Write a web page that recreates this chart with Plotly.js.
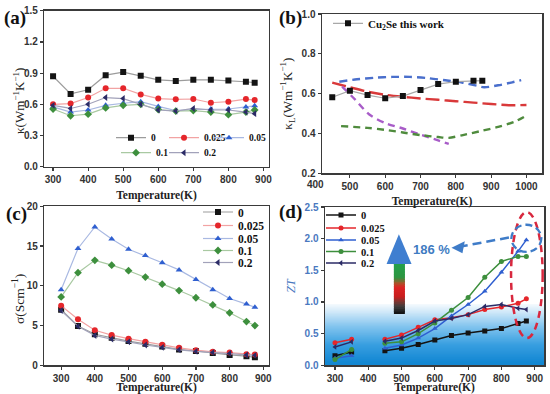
<!DOCTYPE html>
<html><head><meta charset="utf-8">
<script src="https://cdn.plot.ly/plotly-3.0.1.min.js"></script>
<style>html,body{margin:0;padding:0;background:#fff}#chart{width:550px;height:394px}</style>
</head><body><div id="chart"></div>
<script>
// ---------- data ----------
const seriesNames = ['0', '0.025', '0.05', '0.1', '0.2'];
const temps = [300, 350, 400, 450, 500, 550, 600, 650, 700, 750, 800, 850, 875];

// (a) thermal conductivity kappa
const kappa_0    = [0.87, 0.70, 0.74, 0.88, 0.91, 0.875, 0.835, 0.825, 0.835, 0.835, 0.828, 0.817, 0.808];
const kappa_0025 = [0.60, 0.607, 0.665, 0.754, 0.754, 0.695, 0.655, 0.648, 0.651, 0.615, 0.625, 0.65, 0.641];
const kappa_005  = [0.575, 0.525, 0.545, 0.59, 0.61, 0.625, 0.58, 0.54, 0.55, 0.555, 0.555, 0.575, 0.585];
const kappa_01   = [0.555, 0.49, 0.505, 0.565, 0.59, 0.60, 0.55, 0.535, 0.54, 0.525, 0.50, 0.525, 0.545];
const kappa_02   = [0.59, 0.56, 0.60, 0.665, 0.655, 0.60, 0.545, 0.535, 0.56, 0.545, 0.545, 0.525, 0.51];

// (b) lattice thermal conductivity
const cu2seT  = [450, 500, 550, 600, 650, 700, 750, 800, 850, 875];
const cu2seKL = [0.582, 0.615, 0.593, 0.577, 0.588, 0.618, 0.648, 0.66, 0.665, 0.665];
const refBlueT  = [470, 520, 570, 620, 670, 720, 770, 820, 860, 880, 920, 960, 985];
const refBlueKL = [0.66, 0.672, 0.68, 0.684, 0.684, 0.678, 0.667, 0.655, 0.64, 0.632, 0.642, 0.657, 0.668];
const refRedT   = [450, 500, 550, 600, 650, 700, 750, 800, 850, 900, 950, 1000];
const refRedKL  = [0.655, 0.632, 0.61, 0.594, 0.584, 0.576, 0.569, 0.562, 0.555, 0.548, 0.542, 0.543];
const refPurpleT  = [478, 515, 555, 600, 650, 700, 750, 780];
const refPurpleKL = [0.635, 0.57, 0.495, 0.452, 0.425, 0.394, 0.365, 0.348];
const refGreenT  = [475, 550, 600, 650, 700, 750, 780, 820, 870, 920, 970, 1000];
const refGreenKL = [0.437, 0.428, 0.418, 0.405, 0.392, 0.382, 0.378, 0.392, 0.412, 0.433, 0.462, 0.49];

// (c) electrical conductivity sigma
const sigma_0    = [7.0, 4.95, 3.9, 3.45, 3.05, 2.7, 2.35, 2.0, 1.8, 1.55, 1.3, 1.15, 1.0];
const sigma_0025 = [7.5, 5.8, 4.4, 3.8, 3.35, 2.95, 2.6, 2.2, 1.9, 1.7, 1.6, 1.4, 1.35];
const sigma_005  = [9.5, 14.7, 17.4, 15.9, 14.6, 13.8, 12.9, 12.0, 10.8, 9.5, 8.4, 7.7, 7.3];
const sigma_01   = [8.6, 11.65, 13.2, 12.6, 11.9, 11.1, 10.2, 9.4, 8.5, 7.6, 6.6, 5.5, 5.0];
const sigma_02   = [6.9, 4.9, 3.75, 3.3, 2.95, 2.55, 2.25, 1.95, 1.75, 1.6, 1.5, 1.3, 1.25];

// (d) ZT (no measurement at 400 K)
const zt_0    = [0.15, 0.21, null, 0.23, 0.27, 0.33, 0.40, 0.47, 0.51, 0.54, 0.58, 0.66, 0.70];
const zt_0025 = [0.355, 0.41, null, 0.41, 0.48, 0.60, 0.72, 0.75, 0.80, 0.88, 0.92, 0.98, 1.05];
const zt_005  = [0.11, 0.15, null, 0.27, 0.32, 0.43, 0.58, 0.78, 0.96, 1.17, 1.47, 1.80, 1.98];
const zt_01   = [0.09, 0.25, null, 0.35, 0.37, 0.50, 0.67, 0.87, 1.07, 1.39, 1.64, 1.72, 1.72];
const zt_02   = [0.29, 0.37, null, 0.38, 0.43, 0.55, 0.70, 0.74, 0.80, 0.93, 0.96, 0.90, 0.88];

// ---------- styles ----------
const colors   = ['#141414', '#e5262b', '#2f5fd0', '#3d8f3d', '#2b2b66'];
const paleLine = ['#9c9c9c', '#f2a3a3', '#a9b9e2', '#a9c9a2', '#a2a2ba'];
const symbols  = ['square', 'circle', 'triangle-up', 'diamond', 'triangle-left'];
const W = 550, H = 394;
const serif = 'Liberation Serif';
const sans = 'Liberation Sans';

function legendAt(markerX, centerY, size) {
  return {x: (markerX - 20) / W, y: 1 - centerY / H, xref: 'paper', yref: 'paper',
    xanchor: 'left', yanchor: 'middle', bgcolor: 'rgba(0,0,0,0)', borderwidth: 0,
    itemwidth: 30, tracegroupgap: 0,
    font: {family: serif, size: size, weight: 'bold', color: '#111'}};
}

const traces = [];
const layoutLegends = {};
let legendCount = 0;
function nextLegend(markerX, centerY, size) {
  legendCount++;
  const id = legendCount === 1 ? 'legend' : 'legend' + legendCount;
  layoutLegends[id] = legendAt(markerX, centerY, size);
  return id;
}

// (a)
const kappaSets = [kappa_0, kappa_0025, kappa_005, kappa_01, kappa_02];
const aLegendPos = [[131, 137.7], [184, 137.7], [229, 137.7], [136, 152.7], [184, 152.7]];
kappaSets.forEach((ys, i) => {
  traces.push({x: temps, y: ys, xaxis: 'x', yaxis: 'y', type: 'scatter', mode: 'lines+markers',
    name: seriesNames[i], legend: nextLegend(aLegendPos[i][0], aLegendPos[i][1], 9.5),
    line: {color: paleLine[i], width: 1.2},
    marker: {symbol: symbols[i], size: 6, color: colors[i]}});
});

// (b)
const refCurves = [
  [refBlueT, refBlueKL, '#4a6fcc', '8px,5px'],
  [refRedT, refRedKL, '#d9393a', '14px,5px'],
  [refPurpleT, refPurpleKL, '#a85cc8', '7px,5px'],
  [refGreenT, refGreenKL, '#4f8b3d', '7px,5px']
];
refCurves.forEach(c => {
  traces.push({x: c[0], y: c[1], xaxis: 'x2', yaxis: 'y2', type: 'scatter', mode: 'lines',
    showlegend: false, line: {color: c[2], width: 2.4, dash: c[3], shape: 'spline', smoothing: 0.8}});
});
traces.push({x: cu2seT, y: cu2seKL, xaxis: 'x2', yaxis: 'y2', type: 'scatter', mode: 'lines+markers',
  name: 'Cu<sub>2</sub>Se this work', legend: nextLegend(348, 23.3, 11),
  line: {color: '#a8a8a8', width: 1.2}, marker: {symbol: 'square', size: 6, color: '#111'}});

// (c)
const sigmaSets = [sigma_0, sigma_0025, sigma_005, sigma_01, sigma_02];
const cLegendY = [212, 225.5, 238.5, 250.5, 262.5];
sigmaSets.forEach((ys, i) => {
  traces.push({x: temps, y: ys, xaxis: 'x3', yaxis: 'y3', type: 'scatter', mode: 'lines+markers',
    name: seriesNames[i], legend: nextLegend(218, cLegendY[i], 11.5),
    line: {color: paleLine[i], width: 1.2},
    marker: {symbol: symbols[i], size: 6, color: colors[i]}});
});

// (d)
const ztSets = [zt_0, zt_0025, zt_005, zt_01, zt_02];
const dSymbols = ['square', 'circle', 'triangle-up', 'circle', 'triangle-left'];
const dLegendY = [215, 228, 240, 251.5, 263];
ztSets.forEach((ys, i) => {
  traces.push({x: temps, y: ys, xaxis: 'x4', yaxis: 'y4', type: 'scatter', mode: 'lines+markers',
    name: seriesNames[i], legend: nextLegend(341, dLegendY[i], 10.5), connectgaps: false,
    line: {color: colors[i], width: 1.5},
    marker: {symbol: dSymbols[i], size: 5, color: colors[i]}});
});

// ---------- axes ----------
const tickFont = {family: sans, size: 10, weight: 'bold', color: '#333'};
function axis(extra) {
  return Object.assign({showgrid: false, zeroline: false, showline: true, mirror: true,
    linecolor: '#3a3a3a', linewidth: 1.5, ticks: 'outside', ticklen: 3, tickwidth: 1.2,
    tickcolor: '#3a3a3a', tickfont: tickFont, fixedrange: true}, extra);
}
const xTitle = {text: 'Temperature(K)', font: {family: serif, size: 11.5, weight: 'bold', color: '#222'}, standoff: 6};
function yTitle(t, color, size) {
  return {text: t, font: {family: serif, size: size || 13, color: color || '#222'}, standoff: 6};
}
const dom = {
  a: {x: [44.3 / W, 268.7 / W], y: [1 - 166.7 / H, 1 - 10.7 / H]},
  b: {x: [322 / W, 542 / W], y: [1 - 173.3 / H, 1 - 14 / H]},
  c: {x: [44.3 / W, 268.7 / W], y: [1 - 365.3 / H, 1 - 206.3 / H]},
  d: {x: [325 / W, 544 / W], y: [1 - 365.3 / H, 1 - 207 / H]}
};

// ---------- decorations ----------
const shapes = [];
function lerp(stops, t) {
  for (let k = 1; k < stops.length; k++) {
    if (t <= stops[k][0]) {
      const a = stops[k - 1], b = stops[k];
      const f = (t - a[0]) / (b[0] - a[0]);
      const c = a[1].map((v, j) => Math.round(v + (b[1][j] - v) * f));
      return 'rgb(' + c.join(',') + ')';
    }
  }
  const l = stops[stops.length - 1][1];
  return 'rgb(' + l.join(',') + ')';
}
// blue fading background in (d); strips drawn top-down so each overlaps the next
const bgStops = [[0, [18, 134, 210]], [0.3, [55, 158, 224]], [0.6, [130, 196, 238]], [0.85, [212, 234, 249]], [1, [255, 255, 255]]];
const bgTop = 0.97, nStrips = 60;
for (let k = nStrips - 1; k >= 0; k--) {
  const y0 = bgTop * k / nStrips, y1 = bgTop * (k + 1) / nStrips + 0.03;
  shapes.push({type: 'rect', xref: 'x4 domain', yref: 'y4', x0: 0, x1: 1, y0: y0, y1: Math.min(y1, bgTop),
    fillcolor: lerp(bgStops, (k + 0.5) / nStrips), line: {width: 0}, layer: 'below'});
}
// gradient arrow in (d)
const shaftStops = [[0, [35, 160, 75]], [0.28, [45, 150, 65]], [0.4, [175, 80, 40]], [0.47, [220, 35, 35]], [0.66, [200, 30, 30]], [0.76, [120, 55, 50]], [0.86, [60, 60, 60]], [1, [15, 15, 15]]];
const shaftTop = 1.61, shaftBot = 0.81, nShaft = 30;
for (let k = nShaft - 1; k >= 0; k--) {
  const y1 = shaftTop - (shaftTop - shaftBot) * k / nShaft;
  const y0 = shaftTop - (shaftTop - shaftBot) * (k + 1) / nShaft;
  shapes.push({type: 'rect', xref: 'x4', yref: 'y4', x0: 477, x1: 510, y0: y0, y1: Math.min(y1 + 0.02, shaftTop),
    fillcolor: lerp(shaftStops, (k + 0.5) / nShaft), line: {width: 0}});
}
shapes.push({type: 'path', xref: 'x4', yref: 'y4', path: 'M 455 1.60 L 492 2.07 L 530 1.60 Z',
  fillcolor: '#3f7ed0', line: {width: 0}});
// dashed highlight marks in (d)
shapes.push({type: 'circle', xref: 'x4', yref: 'y4', x0: 829, x1: 924, y0: 0.43, y1: 2.42,
  line: {color: '#d8283e', width: 2.5, dash: '7px,5px'}});
shapes.push({type: 'circle', xref: 'x4', yref: 'y4', x0: 830, x1: 920, y0: 1.79, y1: 2.22,
  line: {color: '#3f7cc8', width: 2.3, dash: '7px,4px'}});
shapes.push({type: 'line', xref: 'x4', yref: 'y4', x0: 672, y0: 1.87, x1: 835, y1: 2.03,
  line: {color: '#3f7cc8', width: 2.5, dash: '9px,5px'}});
shapes.push({type: 'path', xref: 'x4', yref: 'y4', path: 'M 650 1.855 L 690 1.96 L 683 1.77 Z',
  fillcolor: '#3f7cc8', line: {width: 0}});

const annotations = [
  {text: '(a)', x: 15 / W, y: 1 - 18 / H},
  {text: '(b)', x: 290 / W, y: 1 - 18 / H},
  {text: '(c)', x: 16 / W, y: 1 - 214 / H},
  {text: '(d)', x: 290 / W, y: 1 - 212 / H}
].map(a => Object.assign({xref: 'paper', yref: 'paper', showarrow: false, xanchor: 'center', yanchor: 'middle',
  font: {family: serif, size: 19, weight: 'bold', color: '#111'}}, a));
annotations.push({text: '186 %', xref: 'x4', yref: 'y4', x: 589, y: 1.83, showarrow: false,
  font: {family: sans, size: 13, weight: 'bold', color: '#3f7cc2'}});
// tick label of 400 K, which sits just left of panel (b)'s frame
annotations.push({text: '400', xref: 'paper', yref: 'paper', x: 315 / W, y: 1 - 173.3 / H,
  yanchor: 'top', yshift: -4, showarrow: false, font: tickFont});
// y titles of (a) and (c), which sit below their panels' centres in the reference
annotations.push({text: 'κ(Wm<sup>−1</sup>K<sup>−1</sup>)', xref: 'paper', yref: 'paper', x: 19 / W, y: 1 - 101 / H,
  xanchor: 'center', yanchor: 'middle',
  textangle: -90, showarrow: false, font: {family: serif, size: 13, color: '#222'}});
annotations.push({text: 'σ(Scm<sup>−1</sup>)', xref: 'paper', yref: 'paper', x: 18 / W, y: 1 - 299 / H,
  xanchor: 'center', yanchor: 'middle',
  textangle: -90, showarrow: false, font: {family: serif, size: 13.5, color: '#222'}});

const layout = Object.assign({
  width: W, height: H, autosize: false,
  margin: {l: 0, r: 0, t: 0, b: 0},
  paper_bgcolor: '#fff', plot_bgcolor: 'rgba(0,0,0,0)',
  showlegend: true,
  xaxis: axis({domain: dom.a.x, anchor: 'y', range: [275, 915], tick0: 300, dtick: 100, title: xTitle}),
  yaxis: axis({domain: dom.a.y, anchor: 'x', range: [0, 1.5], tick0: 0, dtick: 0.3, tickformat: '.1f'}),
  xaxis2: axis({domain: dom.b.x, anchor: 'y2', range: [421, 1044], tick0: 400, dtick: 100, title: xTitle}),
  yaxis2: axis({domain: dom.b.y, anchor: 'x2', range: [0.2, 1.0], tick0: 0.2, dtick: 0.2, tickformat: '.1f',
    title: yTitle('κ<sub>L</sub>(Wm<sup>−1</sup>K<sup>−1</sup>)')}),
  xaxis3: axis({domain: dom.c.x, anchor: 'y3', range: [250, 916], tick0: 300, dtick: 100, title: xTitle}),
  yaxis3: axis({domain: dom.c.y, anchor: 'x3', range: [0, 20], tick0: 0, dtick: 5}),
  xaxis4: axis({domain: dom.d.x, anchor: 'y4', range: [270, 928], tick0: 300, dtick: 100, title: xTitle}),
  yaxis4: axis({domain: dom.d.y, anchor: 'x4', range: [0, 2.5], tick0: 0, dtick: 0.5, tickformat: '.1f',
    tickfont: Object.assign({}, tickFont, {color: '#4a78c0'}),
    title: yTitle('<i>ZT</i>', '#4a78c0', 12.5)}),
  shapes: shapes,
  annotations: annotations
}, layoutLegends);

Plotly.newPlot('chart', traces, layout, {displayModeBar: false, staticPlot: true});
</script>
</body></html>
